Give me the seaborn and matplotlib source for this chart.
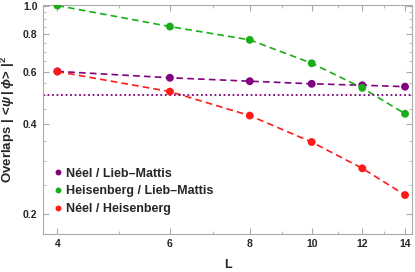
import matplotlib
matplotlib.use("Agg")
import matplotlib.pyplot as plt
import seaborn as sns
import pandas as pd
from matplotlib.ticker import FixedLocator, NullFormatter

# data
L = [4, 6, 8, 10, 12, 14]
neel_lm = [0.601, 0.572, 0.557, 0.546, 0.540, 0.534]
heis_lm = [1.0, 0.850, 0.767, 0.640, 0.529, 0.433]
neel_heis = [0.600, 0.514, 0.427, 0.348, 0.284, 0.231]
labels = ["Néel / Lieb\u2013Mattis", "Heisenberg / Lieb\u2013Mattis", "Néel / Heisenberg"]
colors = ["#800080", "#1aad1a", "#ff1a1a"]
ref_level = 0.5

df = pd.DataFrame({
    "L": L * 3,
    "overlap": neel_lm + heis_lm + neel_heis,
    "pair": [labels[0]] * 6 + [labels[1]] * 6 + [labels[2]] * 6,
})

sns.set_style("ticks")
plt.rcParams["font.family"] = ["Liberation Sans", "DejaVu Sans"]
plt.rcParams["font.weight"] = "bold"
plt.rcParams["mathtext.fontset"] = "custom"
plt.rcParams["mathtext.rm"] = "Liberation Sans:bold"
plt.rcParams["mathtext.it"] = "Liberation Sans:italic:bold"
plt.rcParams["mathtext.bf"] = "Liberation Sans:bold"

fig = plt.figure(figsize=(4.15, 2.72), dpi=100)
ax = fig.add_axes([0.104, 0.14, 0.889, 0.842])

pal = dict(zip(labels, colors))
sns.lineplot(data=df, x="L", y="overlap", hue="pair", palette=pal, ax=ax,
             legend=False, linestyle=(0, (4, 2.5)), linewidth=1.2)
sns.scatterplot(data=df, x="L", y="overlap", hue="pair", palette=pal, ax=ax,
                s=32, edgecolor="none", zorder=3)
ax.axhline(ref_level, color=colors[0], linestyle=(0, (1, 1.5)), linewidth=1.3)

ax.set_xscale("log")
ax.set_yscale("log")
ax.set_xlim(3.8, 14.36)
ax.set_ylim(0.171, 1.005)

ax.xaxis.set_major_locator(FixedLocator(L))
ax.xaxis.set_minor_locator(FixedLocator([5, 7, 9, 11, 13]))
ax.set_xticklabels([str(v) for v in L])
ax.xaxis.set_minor_formatter(NullFormatter())
yt = [0.2, 0.4, 0.6, 0.8, 1.0]
ax.yaxis.set_major_locator(FixedLocator(yt))
ax.yaxis.set_minor_locator(FixedLocator([0.25, 0.3, 0.35, 0.45, 0.5, 0.55, 0.65,
                                         0.7, 0.75, 0.85, 0.9, 0.95]))
ax.set_yticklabels([f"{v:.1f}" for v in yt])
ax.yaxis.set_minor_formatter(NullFormatter())

ax.tick_params(which="both", direction="in", top=True, right=True,
               color="#aaaaaa", labelsize=7.5, pad=4)
ax.tick_params(which="major", length=4)
ax.tick_params(which="minor", length=2)
for sp in ax.spines.values():
    sp.set_color("#aaaaaa")
    sp.set_linewidth(0.8)

ax.set_xlabel("L", fontsize=9, fontweight="bold", labelpad=7)
ax.set_ylabel("Overlaps $|\\,<\\!\\psi\\,|\\,\\phi\\!>\\,|^{2}$", fontsize=9.5,
              fontweight="bold", labelpad=4)

leg = ax.legend(loc="lower left", bbox_to_anchor=(0.0, 0.05), frameon=False,
                fontsize=9, handletextpad=0.05, handlelength=1.2,
                labelspacing=0.45, markerscale=0.75, borderaxespad=0.2)

fig.savefig("out.png", dpi=100)
